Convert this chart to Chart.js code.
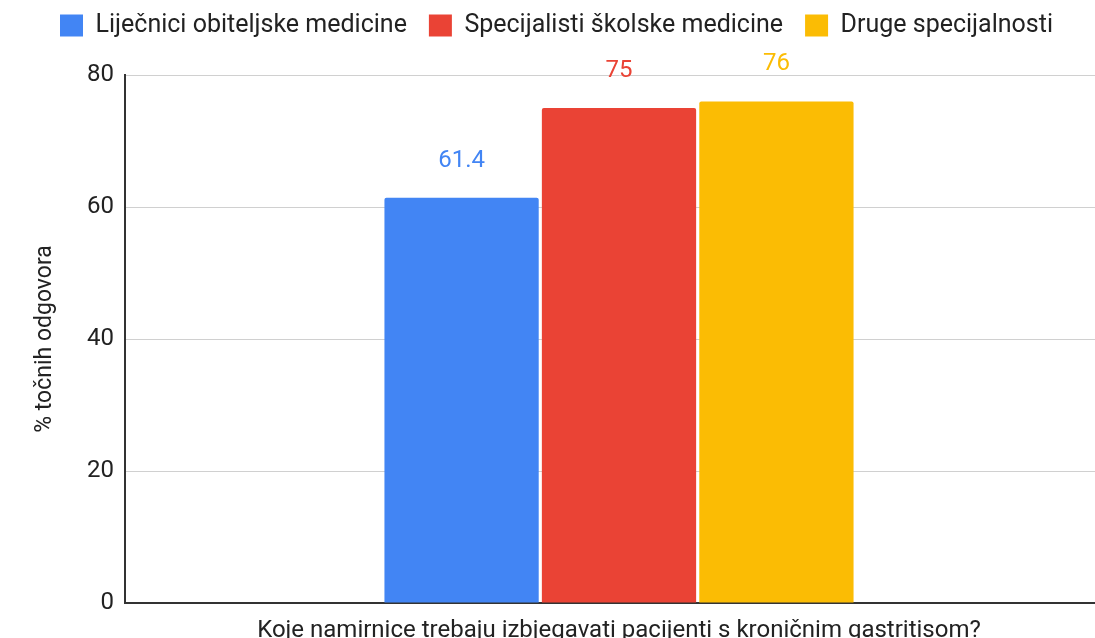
<!DOCTYPE html>
<html>
<head>
<meta charset="utf-8">
<script src="https://cdn.jsdelivr.net/npm/chart.js@4/dist/chart.umd.min.js"></script>
<style>
  html, body { margin: 0; padding: 0; background: #fff; overflow: hidden; }
  #wrap { width: 1113px; height: 638px; }
</style>
</head>
<body>
<div id="wrap"><canvas id="chart" width="1113" height="638"></canvas></div>
<script>
// podaci
const categories = ['Koje namirnice trebaju izbjegavati pacijenti s kroničnim gastritisom?'];
const seriesNames = ['Liječnici obiteljske medicine', 'Specijalisti školske medicine', 'Druge specijalnosti'];
const obiteljska = [61.4];
const skolska = [75];
const druge = [76];
const colors = ['#4285F4', '#EA4335', '#FBBC04'];
const yTicks = [0, 20, 40, 60, 80];

const FONT = 'Roboto, "Noto Sans", sans-serif';

// oznake vrijednosti iznad stupaca
const valueLabels = {
    id: 'valueLabels',
    afterDatasetsDraw(chart) {
        const ctx = chart.ctx;
        ctx.save();
        ctx.font = '24px ' + FONT;
        ctx.textAlign = 'center';
        ctx.textBaseline = 'middle';
        chart.data.datasets.forEach((ds, i) => {
            chart.getDatasetMeta(i).data.forEach((bar, j) => {
                ctx.fillStyle = ds.backgroundColor;
                ctx.fillText(String(ds.data[j]), bar.x, bar.y - 37);
            });
        });
        ctx.restore();
    }
};

// fiksna visina legende
const legendHeight = {
    id: 'legendHeight',
    afterInit(chart) {
        const legend = chart.legend;
        const fit = legend.fit;
        legend.fit = function() {
            fit.call(this);
            this.height = 84;
        };
    }
};

new Chart(document.getElementById('chart'), {
    type: 'bar',
    data: {
        labels: categories,
        datasets: [
            { label: seriesNames[0], data: obiteljska, backgroundColor: colors[0] },
            { label: seriesNames[1], data: skolska, backgroundColor: colors[1] },
            { label: seriesNames[2], data: druge, backgroundColor: colors[2] }
        ]
    },
    options: {
        responsive: false,
        animation: false,
        devicePixelRatio: 1,
        layout: { padding: { top: -9, left: 0, right: 0, bottom: 0 } },
        datasets: {
            bar: {
                categoryPercentage: 0.478,
                barPercentage: 0.98,
                borderRadius: 2,
                borderSkipped: 'bottom'
            }
        },
        plugins: {
            legend: {
                position: 'top',
                labels: {
                    boxWidth: 23,
                    boxHeight: 22,
                    padding: 22,
                    color: '#222',
                    font: { family: FONT, size: 25 }
                }
            },
            tooltip: { enabled: false }
        },
        scales: {
            x: {
                grid: { display: false },
                border: { display: true, color: '#333', width: 2 },
                ticks: { display: false },
                title: {
                    display: true,
                    text: categories[0],
                    color: '#222',
                    font: { family: FONT, size: 24, lineHeight: 0.6 },
                    padding: { top: 0, bottom: 0 }
                },
                afterFit(scale) { scale.height = 35; }
            },
            y: {
                min: 0,
                max: 80,
                afterBuildTicks(scale) { scale.ticks = yTicks.map(v => ({ value: v })); },
                grid: { color: '#d0d0d0', lineWidth: 1, drawTicks: false },
                border: { display: true, color: '#333', width: 2 },
                ticks: {
                    color: '#222',
                    padding: 11,
                    font: { family: FONT, size: 24 }
                },
                title: {
                    display: true,
                    text: '% točnih odgovora',
                    color: '#222',
                    font: { family: FONT, size: 23 },
                    padding: { top: 31, bottom: 0 }
                },
                afterFit(scale) { scale.width = 125; }
            }
        }
    },
    plugins: [valueLabels, legendHeight]
});
</script>
</body>
</html>
